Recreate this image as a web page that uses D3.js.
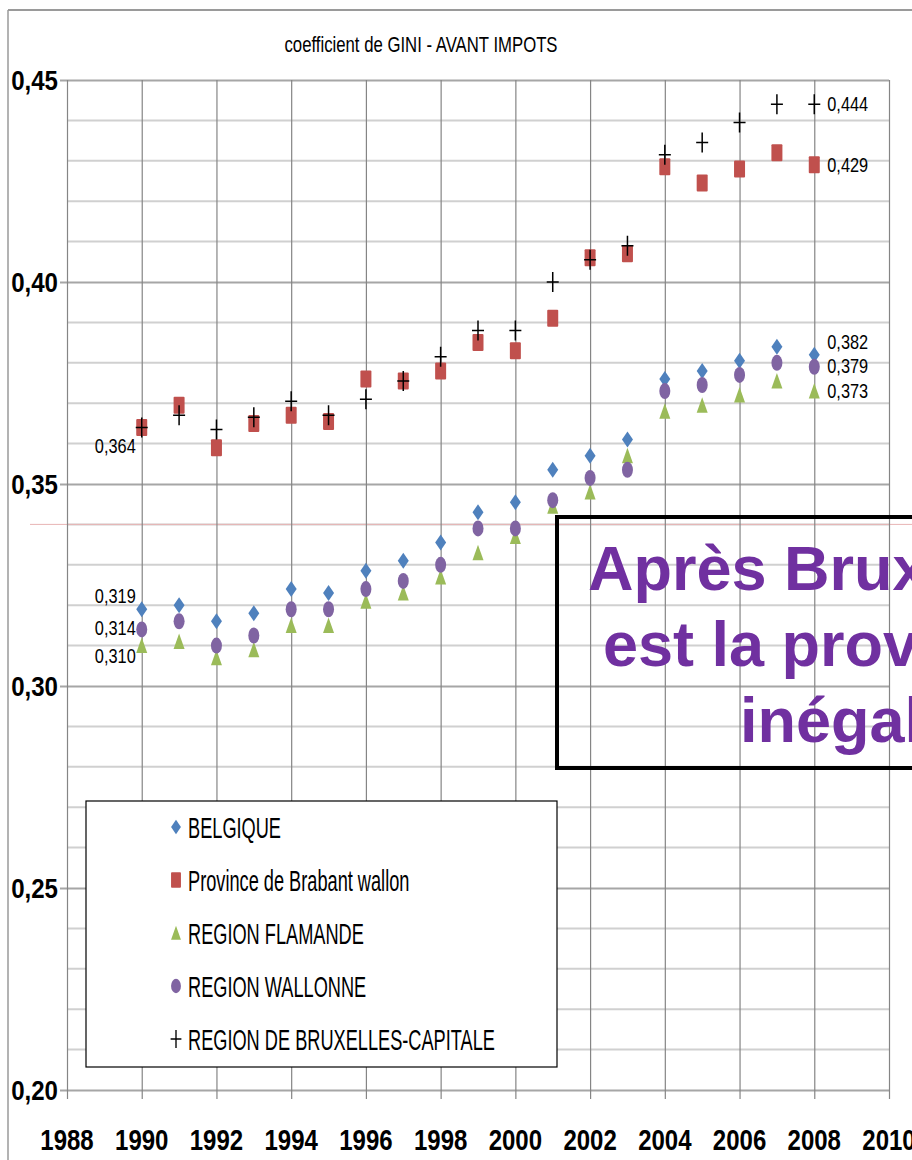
<!DOCTYPE html>
<html>
<head>
<meta charset="utf-8">
<script src="https://cdn.jsdelivr.net/npm/d3@7"></script>
<style>
  body { margin: 0; background: #fff; }
  svg { display: block; }
</style>
</head>
<body>
<div id="chart"></div>
<script>
const svgWidth = 912;
const svgHeight = 1160;

// data
const years = [1990, 1991, 1992, 1993, 1994, 1995, 1996, 1997, 1998, 1999,
  2000, 2001, 2002, 2003, 2004, 2005, 2006, 2007, 2008];
const belgique = [0.319, 0.320, 0.316, 0.318, 0.324, 0.323, 0.3285, 0.331, 0.3355, 0.343,
  0.3455, 0.3535, 0.357, 0.361, 0.376, 0.378, 0.3805, 0.384, 0.382];
const brabant = [0.364, 0.3695, 0.359, 0.365, 0.367, 0.3655, 0.376, 0.3755, 0.378, 0.385,
  0.383, 0.391, 0.406, 0.407, 0.4285, 0.4245, 0.428, 0.432, 0.429];
const flamande = [0.310, 0.311, 0.307, 0.309, 0.315, 0.315, 0.321, 0.323, 0.327, 0.333,
  0.337, 0.3445, 0.348, 0.357, 0.368, 0.3695, 0.372, 0.3755, 0.373];
const wallonne = [0.314, 0.316, 0.310, 0.3125, 0.319, 0.319, 0.324, 0.326, 0.330, 0.339,
  0.339, 0.346, 0.3515, 0.3535, 0.373, 0.3745, 0.377, 0.380, 0.379];
const bruxelles = [0.364, 0.367, 0.3635, 0.3665, 0.3705, 0.367, 0.371, 0.3755, 0.3815, 0.388,
  0.388, 0.400, 0.4055, 0.409, 0.4315, 0.4345, 0.4395, 0.444, 0.444];

const seriesNames = ["BELGIQUE", "Province de Brabant wallon", "REGION FLAMANDE",
  "REGION WALLONNE", "REGION DE BRUXELLES-CAPITALE"];
const xTicks = [1988, 1990, 1992, 1994, 1996, 1998, 2000, 2002, 2004, 2006, 2008, 2010];
const yTicks = [0.20, 0.25, 0.30, 0.35, 0.40, 0.45];
const title = "coefficient de GINI - AVANT IMPOTS";
const boxLines = ["Après Bruxelles, le Brabant wallon", "est la province la plus", "inégalitaire"];

const series = [
  { name: seriesNames[0], values: belgique, shape: "diamond", color: "#4f81bd" },
  { name: seriesNames[1], values: brabant, shape: "square", color: "#c0504d" },
  { name: seriesNames[2], values: flamande, shape: "triangle", color: "#9bbb59" },
  { name: seriesNames[3], values: wallonne, shape: "circle", color: "#8064a2" },
  { name: seriesNames[4], values: bruxelles, shape: "cross", color: "#000" }
];

// value labels: series index, year index, side, vertical shift
const valueLabels = [
  { s: 1, i: 0, side: "left", dy: 19 },
  { s: 0, i: 0, side: "left", dy: -13 },
  { s: 3, i: 0, side: "left", dy: -1 },
  { s: 2, i: 0, side: "left", dy: 10 },
  { s: 4, i: 18, side: "right", dy: 0 },
  { s: 1, i: 18, side: "right", dy: 0 },
  { s: 0, i: 18, side: "right", dy: -13 },
  { s: 3, i: 18, side: "right", dy: -1 },
  { s: 2, i: 18, side: "right", dy: 0 }
];

const sans = "'Liberation Sans', Arial, sans-serif";
const fmt = v => v.toFixed(3).replace(".", ",");

const svg = d3.select("#chart")
  .append("svg")
  .attr("width", svgWidth)
  .attr("height", svgHeight);

const x = d3.scaleLinear().domain([1988, 2010]).range([67, 889]);
const y = d3.scaleLinear().domain([0.20, 0.45]).range([1090, 80]);

// slide frame
svg.append("line").attr("x1", 8).attr("x2", svgWidth).attr("y1", 10).attr("y2", 10)
  .attr("stroke", "#9a9a9a").attr("stroke-width", 2);
svg.append("line").attr("x1", 8).attr("x2", 8).attr("y1", 10).attr("y2", svgHeight)
  .attr("stroke", "#9a9a9a").attr("stroke-width", 1.5);

// squeezed text helper (the original text is narrow and tall)
function squeezeText(g, px, py, str, size, sx, sy, anchor, weight) {
  return g.append("text")
    .attr("transform", `translate(${px},${py}) scale(${sx},${sy})`)
    .attr("text-anchor", anchor || "start")
    .style("font-family", sans)
    .style("font-size", size + "px")
    .style("font-weight", weight || "normal")
    .attr("fill", "#000")
    .text(str);
}

// minor horizontal grid
const minor = d3.range(21, 45).map(d => d / 100).filter(d => Math.round(d * 100) % 5 !== 0);
svg.append("g").selectAll("line")
  .data(minor)
  .enter().append("line")
  .attr("x1", 67).attr("x2", 889)
  .attr("y1", d => y(d)).attr("y2", d => y(d))
  .attr("stroke", "#d0d0d0").attr("stroke-width", 2);

// stray pink line in the slide at 0,34
svg.append("line")
  .attr("x1", 30).attr("x2", svgWidth)
  .attr("y1", y(0.34)).attr("y2", y(0.34))
  .attr("stroke", "#e8b4b4").attr("stroke-width", 1);

// y axis with major grid
const yAxis = d3.axisLeft(y).tickValues(yTicks).tickSize(-(889 - 60)).tickFormat("");
const yG = svg.append("g").attr("transform", "translate(60,0)").call(yAxis);
yG.select(".domain").remove();
yG.selectAll(".tick line").attr("stroke", "#a6a6a6").attr("stroke-width", 2);
const yLab = svg.append("g");
yTicks.forEach(t => {
  squeezeText(yLab, 58, y(t) + 10, t.toFixed(2).replace(".", ","), 28, 0.86, 1, "end", "bold");
});

// x axis with vertical grid
const xAxis = d3.axisBottom(x).tickValues(xTicks).tickSize(-(1090 - 80)).tickFormat("");
const xG = svg.append("g").attr("transform", "translate(0,1090)").call(xAxis);
xG.select(".domain").remove();
xG.selectAll(".tick line").attr("stroke", "#858585").attr("stroke-width", 1.2);
xG.selectAll(".tick").append("line")
  .attr("y1", 0).attr("y2", 9).attr("stroke", "#858585").attr("stroke-width", 1.2);
const xLab = svg.append("g");
xTicks.forEach(t => {
  squeezeText(xLab, x(t), 1150, String(t), 30, 0.8, 1, "middle", "bold");
});

// title
squeezeText(svg, 421, 52, title, 18, 0.93, 1.2, "middle");

// markers
function drawMarker(g, shape, color, cx, cy, s) {
  s = s || 1;
  const m = g.append("g").attr("transform", `translate(${cx},${cy}) scale(${s})`);
  if (shape === "diamond") {
    m.append("path").attr("d", "M0,-8L5.5,0L0,8L-5.5,0Z").attr("fill", color);
  } else if (shape === "square") {
    m.append("rect").attr("x", -5.5).attr("y", -8.5).attr("width", 11).attr("height", 17)
      .attr("fill", color).attr("rx", 1);
  } else if (shape === "triangle") {
    m.append("path").attr("d", "M0,-8L5.5,7.5L-5.5,7.5Z").attr("fill", color);
  } else if (shape === "circle") {
    m.append("ellipse").attr("rx", 5.5).attr("ry", 8).attr("fill", color);
  } else {
    m.append("path").attr("d", "M-6,0H6M0,-10V10").attr("stroke", color)
      .attr("stroke-width", 1.5).attr("fill", "none");
  }
}

const marks = svg.append("g");
series.forEach(sr => {
  sr.values.forEach((v, i) => drawMarker(marks, sr.shape, sr.color, x(years[i]), y(v)));
});

// value labels
const lab = svg.append("g");
valueLabels.forEach(l => {
  const v = series[l.s].values[l.i];
  const px = l.side === "left" ? x(years[l.i]) - 6 : x(years[l.i]) + 13;
  squeezeText(lab, px, y(v) + l.dy + 7, fmt(v), 19, 0.86, 1.1, l.side === "left" ? "end" : "start");
});

// legend
const leg = svg.append("g");
leg.append("rect").attr("x", 86).attr("y", 801).attr("width", 471).attr("height", 266)
  .attr("fill", "#fff").attr("stroke", "#000").attr("stroke-width", 1.2);
series.forEach((sr, i) => {
  const ly = 827 + i * 53;
  drawMarker(leg, sr.shape, sr.color, 176, ly, 0.9);
  squeezeText(leg, 188, ly + 11, sr.name, 20, 0.91, 1.5, "start");
});

// annotation box, cut off at the right edge like the slide
const box = svg.append("g");
box.append("rect").attr("x", 557).attr("y", 517).attr("width", 420).attr("height", 251)
  .attr("fill", "none").attr("stroke", "#000").attr("stroke-width", 4);
const boxX = [588, 603, 740];
const boxY = [590, 666, 742];
boxLines.forEach((t, i) => {
  box.append("text")
    .attr("x", boxX[i]).attr("y", boxY[i])
    .style("font-family", sans)
    .style("font-size", "63px").style("font-weight", "bold")
    .attr("fill", "#7030a0")
    .text(t);
});
</script>
</body>
</html>
